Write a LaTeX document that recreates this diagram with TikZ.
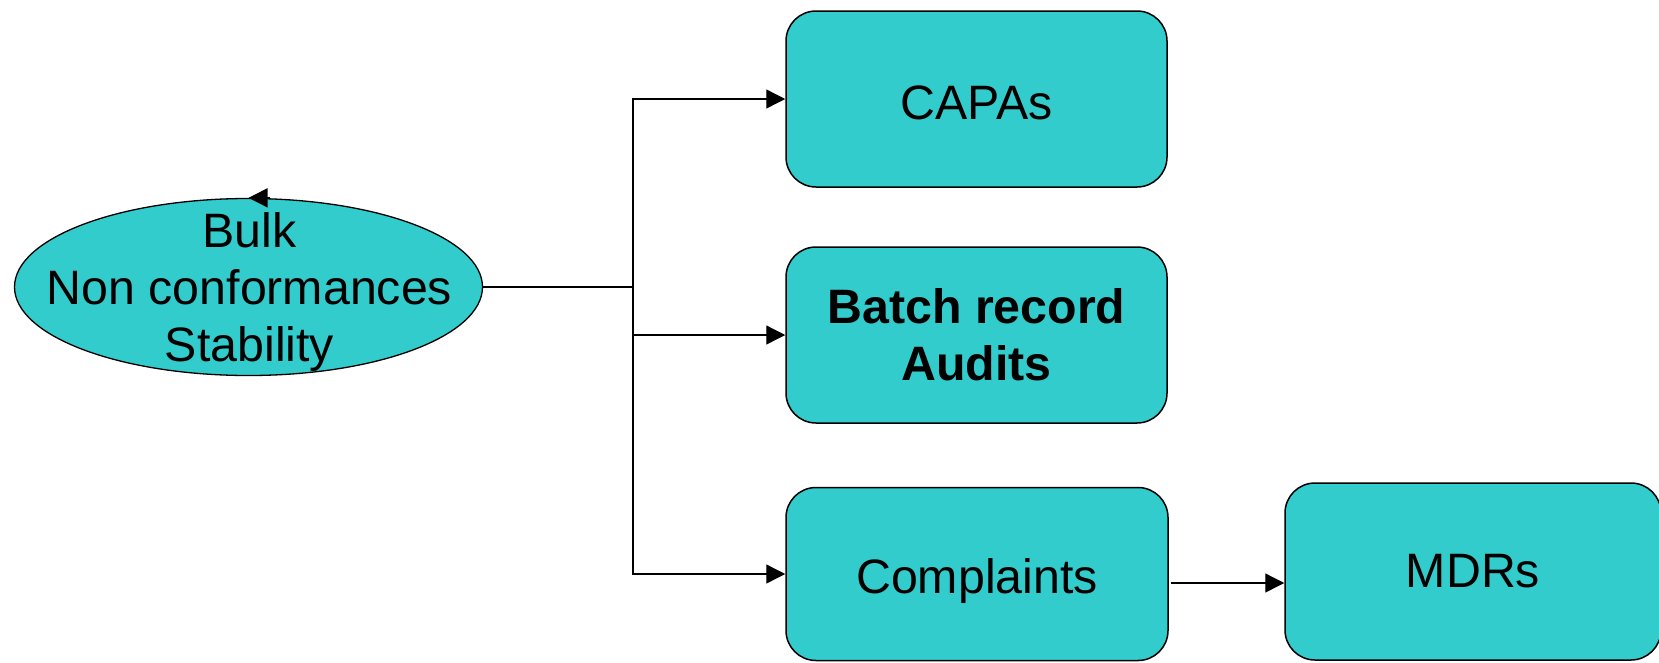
\documentclass[tikz,border=0pt]{standalone}
\usepackage{fontspec}
\setmainfont{Liberation Sans}
\usetikzlibrary{shapes.geometric,arrows.meta,calc}
\definecolor{teal}{RGB}{51,204,204}
\begin{document}
\begin{tikzpicture}[x=1pt,y=-1pt,
  every node/.style={font=\fontsize{48.3}{57}\selectfont, text=black},
  box/.style={draw=black, line width=1.5pt, fill=teal, rounded corners=30pt, inner sep=0pt, align=center},
  oval/.style={draw=black, line width=1.3pt, fill=teal, ellipse, inner sep=0pt},
  conn/.style={draw=black, line width=1.3pt},
  arr/.style={conn, -{Triangle[length=19pt,width=19pt]}}
]
\useasboundingbox (0,0) rectangle (1659,662);
\node[oval, minimum width=468pt, minimum height=177pt] (ell) at (248.5,287) {};
\node[align=center, inner sep=0pt] (elltxt) at (249.5,292) {Bulk\\Non conformances\\Stability};
\node[box, minimum width=381pt, minimum height=176pt, text height=45pt, text depth=4pt] (cap) at (976.5,99) {CAPAs};
\node[box, minimum width=381pt, minimum height=176pt, font=\fontsize{48.3}{57}\selectfont\bfseries] (bat) at (976.5,335) {Batch record\\Audits};
\node[box, minimum width=382pt, minimum height=173pt, text height=44pt, text depth=6pt] (cmp) at (977,574) {Complaints};
\node[box, minimum width=376pt, minimum height=177pt] (mdr) at (1473,571.5) {MDRs};
\coordinate (j) at (633,287);
\coordinate (stray) at ($(ell.north)+(21,0)$);
\coordinate (c1) at (1171,583);
\draw[conn] (ell.east) -- (j);
\draw[arr] (j) |- (cap.west);
\draw[arr] (j) |- (bat.west);
\draw[arr] (j) |- (cmp.west);
\draw[arr] (c1) -- (c1 -| mdr.west);
\draw[arr] (stray) -- (ell.north);
\end{tikzpicture}
\end{document}
